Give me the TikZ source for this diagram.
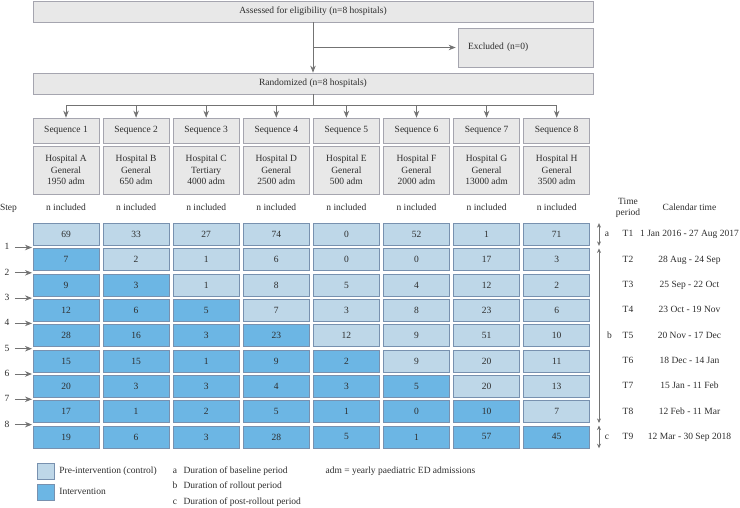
\documentclass[tikz,border=0pt]{standalone}
\usepackage{fontspec}
\setmainfont{Liberation Serif}
\usetikzlibrary{arrows.meta}

\definecolor{boxfill}{RGB}{232,232,232}
\definecolor{boxline}{RGB}{165,165,175}
\definecolor{prefill}{RGB}{190,215,232}
\definecolor{intfill}{RGB}{108,182,228}
\definecolor{cellline}{RGB}{120,145,175}
\definecolor{linegray}{RGB}{115,115,115}
\definecolor{txtgray}{RGB}{45,45,45}

\begin{document}
\begin{tikzpicture}[x=1pt, y=-1pt, >={Stealth[length=7pt,width=5.5pt]},
  font=\fontsize{9.5}{11.4}\selectfont, text=txtgray]

% Styles
\tikzset{
  graybox/.style={draw=boxline, fill=boxfill, line width=0.7pt, inner sep=0pt},
  precell/.style={draw=cellline, fill=prefill, line width=0.7pt,
    minimum width=66pt, minimum height=22pt, inner sep=0pt},
  intcell/.style={precell, fill=intfill},
  txt/.style={text height=6.8pt, text depth=2pt},
  flow/.style={draw=linegray, line width=0.8pt},
  period/.style={draw=linegray, line width=0.6pt,
    >={Stealth[length=4.5pt,width=4pt]}, <->}
}

\useasboundingbox (0,0) rectangle (740,507);

% Flow boxes
\node[graybox, minimum width=560pt, minimum height=21pt] (assess) at (313,11.5)
  {Assessed for eligibility (n=8 hospitals)};
\node[graybox, minimum width=135pt, minimum height=39pt, text width=115pt,
  align=left] (excl) at (525.5,47.5) {Excluded (n=0)};
\node[graybox, minimum width=560pt, minimum height=21pt] (rand) at (313,83.5)
  {Randomized (n=8 hospitals)};

\coordinate (branch) at (assess.south |- excl.west);
\draw[flow, ->] (assess) -- (rand);
\draw[flow, ->, shorten >=2pt] (branch) -- (excl);

% Sequences and hospitals
\foreach \hosp/\kind/\adm [count=\c] in {A/General/1950, B/General/650,
    C/Tertiary/4000, D/General/2500, E/General/500, F/General/2000,
    G/General/13000, H/General/3500} {
  \pgfmathsetmacro{\cx}{66+70.1*(\c-1)}
  \node[graybox, minimum width=66pt, minimum height=25pt] (seq\c) at (\cx,130.5)
    {Sequence \c};
  \node[graybox, minimum width=66pt, minimum height=48pt, align=center] (hosp\c)
    at (\cx,170) {Hospital \hosp\\\kind\\\adm{} adm};
  \node[txt] (incl\c) at (\cx,208) {n included};
  \coordinate (split\c) at (\cx,105);
  \draw[flow, ->] (split\c) -- (seq\c);
}
\draw[flow] (split1) -- (split8);
\draw[flow] (rand) -- (rand.south |- split1);

% Counts per time period (intervention once the step has passed)
\foreach \vals [count=\r] in {{69,33,27,74,0,52,1,71}, {7,2,1,6,0,0,17,3},
    {9,3,1,8,5,4,12,2}, {12,6,5,7,3,8,23,6}, {28,16,3,23,12,9,51,10},
    {15,15,1,9,2,9,20,11}, {20,3,3,4,3,5,20,13}, {17,1,2,5,1,0,10,7},
    {19,6,3,28,5,1,57,45}} {
  \foreach \v [count=\c] in \vals {
    \ifnum\c<\r\relax \def\cellstyle{intcell}\else\def\cellstyle{precell}\fi
    \node[\cellstyle] (cell\r-\c) at ({66+70.1*(\c-1)},{234.5+25.3*(\r-1)}) {\v};
  }
}

% Steps
\node[txt] (steplbl) at (8.5,208) {Step};
\foreach \k in {1,...,8} {
  \node[txt] (step\k) at (7,{247.5+25.3*(\k-1)}) {\k};
  \coordinate (stepend\k) at (32,{247.5+25.3*(\k-1)});
  \draw[flow, ->, shorten <=2pt] (step\k) -- (stepend\k);
}

% Time periods
\node[align=center] (tphead) at (628,208) {Time\\period};
\node[txt] (calhead) at (689.5,208) {Calendar time};
\foreach \tp/\cal [count=\r] in {T1/1 Jan 2016 - 27 Aug 2017, T2/28 Aug - 24 Sep,
    T3/25 Sep - 22 Oct, T4/23 Oct - 19 Nov, T5/20 Nov - 17 Dec,
    T6/18 Dec - 14 Jan, T7/15 Jan - 11 Feb, T8/12 Feb - 11 Mar,
    T9/12 Mar - 30 Sep 2018} {
  \node[txt] (tp\r) at (628,{234.5+25.3*(\r-1)}) {\tp};
  \node[txt] (cal\r) at (689.5,{234.5+25.3*(\r-1)}) {\cal};
}

\coordinate (px) at (599,0);
\draw[period] (cell1-8.north -| px) -- (cell1-8.south -| px);
\draw[period] (cell2-8.north -| px) -- (cell8-8.south -| px);
\draw[period] (cell9-8.north -| px) -- (cell9-8.south -| px);
\node[txt] (pera) at (607,234.5) {a};
\node[txt] (perb) at (609.5,335.7) {b};
\node[txt] (perc) at (607,436.9) {c};

% Legend
\node[precell, minimum width=17pt, minimum height=16pt] (legpre) at (45.5,471) {};
\node[intcell, minimum width=17pt, minimum height=16pt] (legint) at (45.5,492.5) {};
\node[txt, anchor=west, xshift=1.5pt] (legpretxt) at (legpre.east)
  {Pre-intervention (control)};
\node[txt, anchor=west, xshift=1.5pt] (leginttxt) at (legint.east) {Intervention};
\foreach \key/\what [count=\i] in {a/baseline, b/rollout, c/post-rollout} {
  \node[txt] (key\key) at (175,{471+15.5*(\i-1)}) {\key};
  \node[txt, anchor=west] (keytxt\key) at (180,{471+15.5*(\i-1)})
    {Duration of \what{} period};
}
\node[txt, anchor=west] (admnote) at (322,471) {adm = yearly paediatric ED admissions};

\end{tikzpicture}
\end{document}
